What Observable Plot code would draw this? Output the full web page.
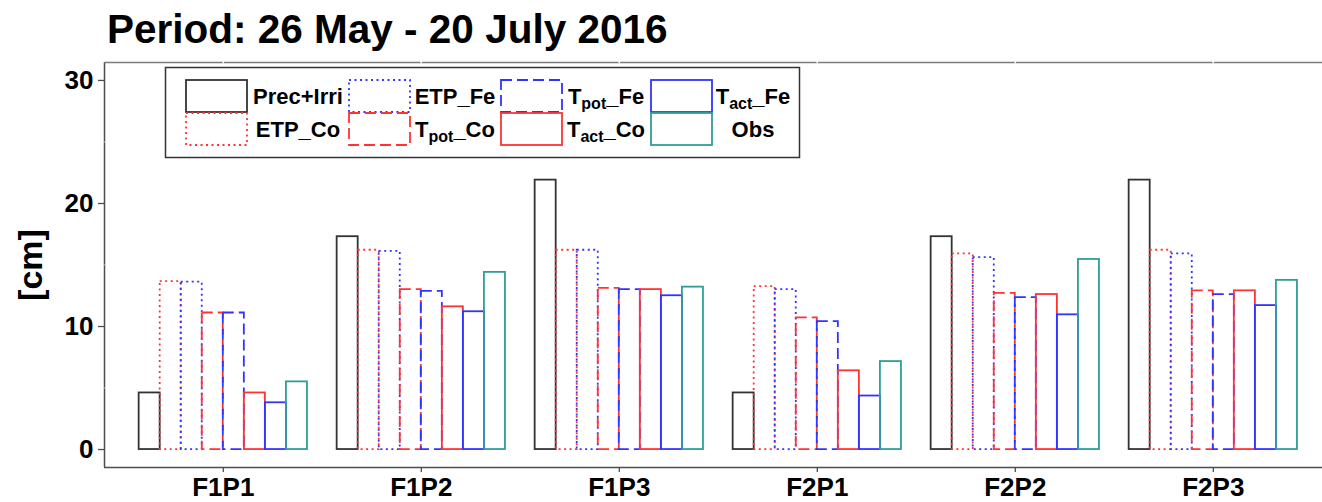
<!DOCTYPE html>
<html>
<head>
<meta charset="utf-8">
<script src="https://cdn.jsdelivr.net/npm/d3@7"></script>
<script src="https://cdn.jsdelivr.net/npm/@observablehq/plot@0.6"></script>
<style>
  html, body { margin: 0; padding: 0; background: #fff; overflow: hidden; }
  body { position: relative; width: 1322px; height: 502px; font-family: "Liberation Sans", Arial, sans-serif; }
  #title { box-sizing: border-box; height: 56px; padding: 9px 0 0 107px; font: bold 40.5px/40px "Liberation Sans", Arial, sans-serif; color: #000; white-space: nowrap; }
  #chart svg { display: block; }
  #chart g[aria-label^="x-axis"] text, #chart g[aria-label^="y-axis"] text {
    font: bold 26px "Liberation Sans", Arial, sans-serif; fill: #000;
  }
  #chart g[aria-label^="x-axis"] line, #chart g[aria-label^="x-axis"] path,
  #chart g[aria-label^="y-axis"] line, #chart g[aria-label^="y-axis"] path {
    stroke: #4d4d4d; stroke-width: 1.3;
  }
  #legend { position: absolute; left: 0; top: 0; pointer-events: none; }
</style>
</head>
<body>
<div id="title">Period: 26 May - 20 July 2016</div>
<div id="chart"></div>
<svg id="legend" width="1322" height="502"></svg>
<script>
// ---- data ----
const groups = ["F1P1", "F1P2", "F1P3", "F2P1", "F2P2", "F2P3"];
const seriesNames = ["Prec+Irri", "ETP_Co", "ETP_Fe", "Tpot_Co", "Tpot_Fe", "Tact_Co", "Tact_Fe", "Obs"];
const precIrri = [4.6, 17.3, 21.9, 4.6, 17.3, 21.9];
const etpCo    = [13.65, 16.2, 16.2, 13.25, 15.9, 16.2];
const etpFe    = [13.6, 16.1, 16.2, 13.0, 15.6, 15.9];
const tpotCo   = [11.1, 13.0, 13.1, 10.7, 12.7, 12.9];
const tpotFe   = [11.1, 12.85, 13.0, 10.4, 12.35, 12.6];
const tactCo   = [4.6, 11.6, 13.0, 6.4, 12.6, 12.9];
const tactFe   = [3.8, 11.2, 12.5, 4.35, 10.95, 11.7];
const obs      = [5.5, 14.4, 13.2, 7.15, 15.45, 13.75];
const yTicks = [0, 10, 20, 30];
const yMinor = [5, 15, 25];
const seriesValues = [precIrri, etpCo, etpFe, tpotCo, tpotFe, tactCo, tactFe, obs];

// ---- styles per series ----
const styles = {
  "Prec+Irri": {stroke: "#333333", dash: null},
  "ETP_Co":    {stroke: "#ff3333", dash: "2,3.5"},
  "ETP_Fe":    {stroke: "#3333ff", dash: "2,3.5"},
  "Tpot_Co":   {stroke: "#ff3333", dash: "11,5"},
  "Tpot_Fe":   {stroke: "#3333ff", dash: "11,5"},
  "Tact_Co":   {stroke: "#ff3333", dash: null},
  "Tact_Fe":   {stroke: "#3333ff", dash: null},
  "Obs":       {stroke: "#2f9e98", dash: null}
};

// dodge (like position_dodge, total width 0.85)
const dodgeWidth = 0.85;
const w = dodgeWidth / seriesNames.length;
const rows = [];
seriesNames.forEach((s, j) => {
  groups.forEach((g, i) => {
    rows.push({series: s, group: g, gi: i, sj: j, value: seriesValues[j][i]});
  });
});

const yTop = 31.46, yBot = -1.46, xLeft = -0.6, xRight = 5.56;
const marks = [];
seriesNames.forEach((s) => {
  const st = styles[s];
  const opts = {
    x1: d => d.gi - dodgeWidth / 2 + d.sj * w,
    x2: d => d.gi - dodgeWidth / 2 + (d.sj + 1) * w,
    y1: d => 0,
    y2: d => d.value,
    fill: "none",
    stroke: st.stroke,
    strokeWidth: 1.8
  };
  if (st.dash) opts.strokeDasharray = st.dash;
  marks.push(Plot.rect(rows.filter(r => r.series === s), opts));
});

// panel lines
marks.push(Plot.ruleX([xLeft], {y1: yBot, y2: yTop, stroke: "#4d4d4d", strokeWidth: 1.5}));
marks.push(Plot.ruleY([yBot], {x1: xLeft, x2: xRight, stroke: "#4d4d4d", strokeWidth: 1.5}));
marks.push(Plot.ruleY([yTop], {x1: xLeft, x2: xRight, stroke: "#7a7a7a", strokeWidth: 1.5}));
// faint grid gaps crossing the panel border (white gridlines)
marks.push(Plot.ruleX(d3.range(groups.length), {y1: yTop - 0.1, y2: yTop + 0.1, stroke: "#fff", strokeWidth: 1.5}));
marks.push(Plot.ruleY(yMinor, {x1: xLeft - 0.004, x2: xLeft + 0.004, stroke: "#ddd", strokeWidth: 1}));
marks.push(Plot.text(["[cm]"], {frameAnchor: "left", rotate: -90, dx: -73, text: d => d,
  textAnchor: "middle", lineAnchor: "middle",
  fontSize: 34, fontWeight: "bold", fill: "#000", fontFamily: "Liberation Sans, Arial, sans-serif"}));

const chart = Plot.plot({
  width: 1322,
  height: 446,
  marginLeft: 104,
  marginRight: 0,
  marginTop: 6,
  marginBottom: 35,
  style: {background: "transparent", overflow: "visible"},
  x: {type: "linear", domain: [xLeft, 5.5515], ticks: d3.range(groups.length),
      tickFormat: i => groups[i], tickSize: 5, tickPadding: 5, label: null},
  y: {domain: [yBot, yTop], ticks: yTicks, tickSize: 6, tickPadding: 5, label: null},
  marks
});
document.getElementById("chart").appendChild(chart);

// ---- legend (overlay in page coordinates) ----
const legendItems = [
  {name: "Prec+Irri", label: [["Prec+Irri"]], col: 0, row: 0},
  {name: "ETP_Co", label: [["ETP_Co"]], col: 0, row: 1},
  {name: "ETP_Fe", label: [["ETP_Fe"]], col: 1, row: 0},
  {name: "Tpot_Co", label: [["T"], ["pot", "sub"], ["_Co"]], col: 1, row: 1},
  {name: "Tpot_Fe", label: [["T"], ["pot", "sub"], ["_Fe"]], col: 2, row: 0},
  {name: "Tact_Co", label: [["T"], ["act", "sub"], ["_Co"]], col: 2, row: 1},
  {name: "Tact_Fe", label: [["T"], ["act", "sub"], ["_Fe"]], col: 3, row: 0},
  {name: "Obs", label: [["Obs"]], col: 3, row: 1}
];
const keyX = [186, 349, 501, 651];
const labelCX = [298, 455, 606, 753];
const keyY = [80, 113];
const lg = d3.select("#legend");
lg.append("rect").attr("x", 165.5).attr("y", 67.5).attr("width", 634).attr("height", 90)
  .attr("fill", "#fff").attr("stroke", "#333").attr("stroke-width", 1.5);
legendItems.forEach(it => {
  const st = styles[it.name];
  const r = lg.append("rect").attr("x", keyX[it.col]).attr("y", keyY[it.row])
    .attr("width", 61).attr("height", 32).attr("fill", "none")
    .attr("stroke", st.stroke).attr("stroke-width", 1.8);
  if (st.dash) r.attr("stroke-dasharray", st.dash);
  const t = lg.append("text").attr("x", labelCX[it.col]).attr("y", keyY[it.row] + 23.5)
    .attr("text-anchor", "middle")
    .style("font", "bold 22px 'Liberation Sans', Arial, sans-serif").attr("fill", "#000");
  let shifted = false;
  it.label.forEach(([txt, kind]) => {
    const ts = t.append("tspan").text(txt);
    if (kind === "sub") { ts.attr("dy", 5).style("font-size", "16px"); shifted = true; }
    else if (shifted) { ts.attr("dy", -5); shifted = false; }
  });
});
</script>
</body>
</html>
